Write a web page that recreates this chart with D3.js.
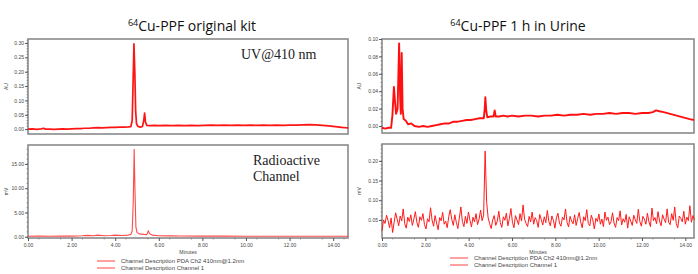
<!DOCTYPE html>
<html>
<head>
<meta charset="utf-8">
<script src="https://cdn.jsdelivr.net/npm/d3@7"></script>
<style>
  body { margin: 0; background: #fff; }
  svg { display: block; }
  .tick text { font-family: Arial, "Liberation Sans", sans-serif; }
</style>
</head>
<body>
<svg id="chart" width="698" height="274"></svg>
<script>
// ---- data ----
var titles = ["Cu-PPF original kit", "Cu-PPF 1 h in Urine"];
var legendLabels = ["Channel Description PDA Ch2 410nm@1.2nm", "Channel Description Channel 1"];

// UV 410 nm, original kit  [minutes, AU]
var kitUV = [
  [0, 0.000], [0.2, 0.001], [0.4, -0.001], [0.6, 0.001], [0.72, 0.003], [0.8, 0.000], [1.0, 0.000],
  [1.2, -0.001], [1.4, 0.000], [1.6, 0.001], [1.8, 0.000], [2.0, 0.001], [2.2, 0.002], [2.4, 0.002],
  [2.6, 0.003], [2.8, 0.003], [3.0, 0.004], [3.2, 0.005], [3.4, 0.004], [3.6, 0.005], [3.8, 0.006],
  [4.0, 0.006], [4.2, 0.007], [4.4, 0.007], [4.6, 0.008], [4.72, 0.009], [4.78, 0.03], [4.82, 0.16],
  [4.86, 0.297], [4.9, 0.2], [4.94, 0.06], [4.98, 0.018], [5.05, 0.009], [5.15, 0.007], [5.25, 0.009],
  [5.31, 0.03], [5.35, 0.056], [5.39, 0.025], [5.45, 0.013], [5.6, 0.012], [5.8, 0.013], [6.0, 0.012],
  [6.3, 0.013], [6.6, 0.012], [6.9, 0.013], [7.2, 0.012], [7.5, 0.013], [7.8, 0.012], [8.1, 0.013],
  [8.4, 0.014], [8.7, 0.013], [9.0, 0.014], [9.3, 0.013], [9.6, 0.014], [9.9, 0.013], [10.2, 0.014],
  [10.5, 0.013], [10.8, 0.014], [11.1, 0.013], [11.4, 0.014], [11.7, 0.013], [12.0, 0.014], [12.3, 0.014],
  [12.6, 0.015], [12.9, 0.016], [13.2, 0.015], [13.5, 0.013], [13.8, 0.011], [14.1, 0.009], [14.4, 0.006],
  [14.7, 0.004]
];

// radioactive channel, original kit  [minutes, mV]
var kitRad = [
  [0, 0.12], [0.5, 0.15], [1.0, 0.12], [1.5, 0.16], [2.0, 0.14], [2.5, 0.2], [2.7, 0.3], [3.0, 0.22],
  [3.2, 0.35], [3.5, 0.22], [3.8, 0.25], [4.0, 0.35], [4.3, 0.25], [4.6, 0.35], [4.72, 0.5], [4.78, 1.2],
  [4.83, 7.5], [4.87, 18.0], [4.91, 9.0], [4.95, 2.0], [5.0, 0.9], [5.1, 0.6], [5.3, 0.5], [5.45, 0.45],
  [5.52, 1.25], [5.58, 0.6], [5.7, 0.35], [6.0, 0.22], [6.5, 0.18], [7.0, 0.15], [8.0, 0.14], [9.0, 0.13],
  [10.0, 0.12], [11.0, 0.12], [12.0, 0.11], [13.0, 0.12], [14.0, 0.11], [14.7, 0.1]
];

// UV 410 nm, 1 h in urine  [minutes, AU]
var urineUV = [
  [0, -0.002], [0.15, -0.003], [0.3, -0.002], [0.42, -0.002], [0.48, 0.012], [0.55, 0.045], [0.6, 0.028],
  [0.65, 0.014], [0.72, 0.02], [0.79, 0.095], [0.84, 0.03], [0.87, 0.014], [0.91, 0.084], [0.95, 0.02],
  [1.0, 0.008], [1.1, 0.006], [1.2, 0.002], [1.35, 0.003], [1.5, 0.000], [1.7, -0.001], [1.9, 0.000],
  [2.1, -0.001], [2.3, 0.000], [2.5, 0.001], [2.7, 0.002], [2.9, 0.003], [3.1, 0.003], [3.3, 0.005],
  [3.5, 0.005], [3.7, 0.006], [3.9, 0.007], [4.1, 0.007], [4.3, 0.008], [4.5, 0.009], [4.7, 0.009],
  [4.74, 0.02], [4.77, 0.033], [4.81, 0.018], [4.86, 0.01], [5.0, 0.011], [5.15, 0.011], [5.2, 0.018],
  [5.25, 0.011], [5.4, 0.011], [5.6, 0.012], [5.8, 0.011], [6.0, 0.012], [6.3, 0.011], [6.6, 0.012],
  [6.9, 0.012], [7.2, 0.011], [7.5, 0.012], [7.8, 0.012], [8.1, 0.013], [8.4, 0.012], [8.7, 0.013],
  [9.0, 0.013], [9.3, 0.014], [9.6, 0.013], [9.9, 0.014], [10.2, 0.014], [10.5, 0.015], [10.8, 0.014],
  [11.1, 0.015], [11.4, 0.015], [11.7, 0.014], [12.0, 0.015], [12.3, 0.015], [12.5, 0.016], [12.65, 0.018],
  [12.8, 0.017], [13.0, 0.016], [13.3, 0.014], [13.6, 0.012], [13.9, 0.01], [14.2, 0.008], [14.4, 0.007]
];

// radioactive channel, 1 h in urine: one value every 0.07 min  [mV]
var urineRadStep = 0.07;
var urineRad = [
  0.022, 0.050, 0.041, 0.062, 0.048, 0.030, 0.055, 0.018, 0.044, 0.068, 0.052, 0.035, 0.060, 0.047, 0.078, 0.040, 0.029, 0.057, 0.046, 0.063,
  0.036, 0.052, 0.071, 0.044, 0.031, 0.058, 0.049, 0.066, 0.038, 0.027, 0.053, 0.045, 0.081, 0.050, 0.034, 0.061, 0.042, 0.025, 0.056, 0.048,
  0.069, 0.039, 0.047, 0.030, 0.058, 0.076, 0.051, 0.036, 0.063, 0.044, 0.028, 0.055, 0.083, 0.046, 0.033, 0.059, 0.041, 0.070, 0.049, 0.032,
  0.057, 0.045, 0.066, 0.038, 0.052, 0.075, 0.048, 0.062, 0.225, 0.095, 0.055, 0.040, 0.028, 0.050, 0.061, 0.036, 0.047, 0.072, 0.043, 0.031,
  0.058, 0.049, 0.067, 0.035, 0.054, 0.079, 0.044, 0.030, 0.061, 0.050, 0.038, 0.066, 0.047, 0.088, 0.052, 0.041, 0.033, 0.059, 0.045, 0.070,
  0.039, 0.056, 0.048, 0.031, 0.064, 0.051, 0.037, 0.058, 0.043, 0.074, 0.046, 0.035, 0.060, 0.049, 0.029, 0.055, 0.067, 0.042, 0.034, 0.057,
  0.050, 0.078, 0.044, 0.032, 0.059, 0.047, 0.040, 0.063, 0.036, 0.053, 0.069, 0.045, 0.030, 0.058, 0.048, 0.076, 0.041, 0.035, 0.062, 0.050,
  0.027, 0.054, 0.046, 0.065, 0.039, 0.052, 0.033, 0.070, 0.049, 0.057, 0.038, 0.045, 0.068, 0.042, 0.031, 0.056, 0.048, 0.073, 0.037, 0.053,
  0.044, 0.064, 0.029, 0.058, 0.047, 0.036, 0.062, 0.050, 0.041, 0.077, 0.046, 0.034, 0.059, 0.052, 0.039, 0.067, 0.045, 0.033, 0.080, 0.048,
  0.056, 0.040, 0.071, 0.047, 0.035, 0.063, 0.052, 0.043, 0.078, 0.044, 0.038, 0.066, 0.049, 0.083, 0.041, 0.030, 0.060, 0.054, 0.045, 0.072,
  0.039, 0.057, 0.048, 0.086, 0.044, 0.061, 0.050
];

var xTicks = [0, 2, 4, 6, 8, 10, 12, 14];
var kitUVTicks = [0, 0.05, 0.10, 0.15, 0.20, 0.25, 0.30];
var kitRadTicks = [0, 5, 10, 15];
var urineUVTicks = [0, 0.02, 0.04, 0.06, 0.08, 0.10];
var urineRadTicks = [0.05, 0.10, 0.15, 0.20];

// ---- drawing ----
var svg = d3.select("#chart");

function drawPanel(p) {
  var x = d3.scaleLinear().domain(p.xDom).range([p.left, p.right]);
  var y = d3.scaleLinear().domain(p.yDom).range([p.bottom, p.top]);
  var g = svg.append("g");

  g.append("rect")
    .attr("x", p.left)
    .attr("y", p.top)
    .attr("width", p.right - p.left)
    .attr("height", p.bottom - p.top)
    .attr("fill", "#fff")
    .attr("stroke", "#8a8a8a")
    .attr("stroke-width", 1.6);

  // y axis, major + minor ticks
  var yAxis = g.append("g")
    .attr("transform", "translate(" + p.left + ",0)")
    .call(d3.axisLeft(y).tickValues(p.yTicks).tickFormat(d3.format(".2f")).tickSize(3).tickPadding(1));
  yAxis.select(".domain").remove();
  yAxis.selectAll("text").attr("font-size", 5).attr("fill", "#444");
  yAxis.selectAll("line").attr("stroke", "#555");
  var minorY = d3.range(p.yTicks[0], p.yDom[1], p.yMinor).filter(function (d) {
    return d >= p.yDom[0];
  });
  g.append("g")
    .selectAll("line")
    .data(minorY)
    .enter()
    .append("line")
    .attr("x1", p.left - 1.5)
    .attr("x2", p.left)
    .attr("y1", function (d) { return y(d); })
    .attr("y2", function (d) { return y(d); })
    .attr("stroke", "#666")
    .attr("stroke-width", 0.6);

  g.append("text")
    .attr("transform", "translate(" + p.yLabelX + "," + ((p.top + p.bottom) / 2) + ") rotate(-90)")
    .attr("text-anchor", "middle")
    .attr("font-family", "Arial, sans-serif")
    .attr("font-size", 5)
    .attr("fill", "#444")
    .text(p.yLabel);

  if (p.showX) {
    var xAxis = g.append("g")
      .attr("transform", "translate(0," + p.bottom + ")")
      .call(d3.axisBottom(x).tickValues(xTicks).tickFormat(d3.format(".2f")).tickSize(3).tickPadding(2));
    xAxis.select(".domain").remove();
    xAxis.selectAll("text").attr("font-size", 5).attr("fill", "#444");
    xAxis.selectAll("line").attr("stroke", "#555");
    g.append("g")
      .selectAll("line")
      .data(d3.range(0.5, p.xDom[1], 1))
      .enter()
      .append("line")
      .attr("x1", function (d) { return x(d); })
      .attr("x2", function (d) { return x(d); })
      .attr("y1", p.bottom)
      .attr("y2", p.bottom + 1.5)
      .attr("stroke", "#666")
      .attr("stroke-width", 0.6);
    g.append("text")
      .attr("x", (p.left + p.right) / 2)
      .attr("y", p.bottom + 16)
      .attr("text-anchor", "middle")
      .attr("font-family", "Arial, sans-serif")
      .attr("font-size", 5)
      .attr("fill", "#444")
      .text("Minutes");
  }

  var line = d3.line()
    .x(function (d) { return x(d[0]); })
    .y(function (d) { return y(d[1]); });

  g.append("path")
    .datum(p.data)
    .attr("fill", "none")
    .attr("stroke", p.color)
    .attr("stroke-width", p.width)
    .attr("stroke-linejoin", "round")
    .attr("d", line);

  return g;
}

var panels = [
  { left: 28, right: 348, top: 39, bottom: 134, xDom: [0, 14.68], yDom: [-0.017, 0.314],
    yTicks: kitUVTicks, yMinor: 0.01, yLabel: "AU", yLabelX: 8, showX: false,
    data: kitUV, color: "#ff1414", width: 1.7 },
  { left: 28, right: 348, top: 145, bottom: 238, xDom: [0, 14.68], yDom: [-0.25, 18.9],
    yTicks: kitRadTicks, yMinor: 1, yLabel: "mV", yLabelX: 8, showX: true,
    data: kitRad, color: "#ff4a4a", width: 1.1 },
  { left: 382, right: 694, top: 39, bottom: 133, xDom: [0, 14.4], yDom: [-0.008, 0.1],
    yTicks: urineUVTicks, yMinor: 0.005, yLabel: "AU", yLabelX: 361, showX: false,
    data: urineUV, color: "#ff1010", width: 1.9 },
  { left: 382, right: 694, top: 144, bottom: 238, xDom: [0, 14.4], yDom: [0.004, 0.243],
    yTicks: urineRadTicks, yMinor: 0.01, yLabel: "mV", yLabelX: 361, showX: true,
    data: urineRad.map(function (v, i) { return [i * urineRadStep, v]; }), color: "#ff1a1a", width: 1 }
];

panels.forEach(drawPanel);

// titles with superscript mass number
[{ x: 192, text: titles[0] }, { x: 518, text: titles[1] }].forEach(function (t) {
  var tx = svg.append("text")
    .attr("x", t.x)
    .attr("y", 31)
    .attr("text-anchor", "middle")
    .attr("font-family", "'Open Sans', sans-serif")
    .attr("font-size", 14)
    .attr("fill", "#111");
  tx.append("tspan").attr("font-size", 9).attr("dy", -5).text("64");
  tx.append("tspan").attr("dy", 5).text(t.text);
});

// channel annotations
svg.append("text")
  .attr("x", 241)
  .attr("y", 59)
  .attr("font-family", "'Liberation Serif', 'Times New Roman', serif")
  .attr("font-size", 14)
  .attr("fill", "#222")
  .text("UV@410 nm");

var rad = svg.append("text")
  .attr("font-family", "'Liberation Serif', 'Times New Roman', serif")
  .attr("font-size", 14)
  .attr("fill", "#222");
rad.append("tspan").attr("x", 253).attr("y", 165).text("Radioactive");
rad.append("tspan").attr("x", 253).attr("y", 181).text("Channel");

// legends under each bottom panel
[{ x: 97, y: 261 }, { x: 450, y: 258 }].forEach(function (pos) {
  var legend = svg.append("g")
    .selectAll("g")
    .data(legendLabels)
    .enter()
    .append("g")
    .attr("transform", function (d, i) {
      return "translate(" + pos.x + "," + (pos.y + i * 7) + ")";
    });
  legend.append("line")
    .attr("x1", 0)
    .attr("x2", 18)
    .attr("stroke", "#ff6f6f")
    .attr("stroke-width", 1.3);
  legend.append("text")
    .attr("x", 24)
    .attr("dy", "0.35em")
    .attr("font-family", "Arial, sans-serif")
    .attr("font-size", 6)
    .attr("fill", "#444")
    .text(function (d) { return d; });
});
</script>
</body>
</html>
